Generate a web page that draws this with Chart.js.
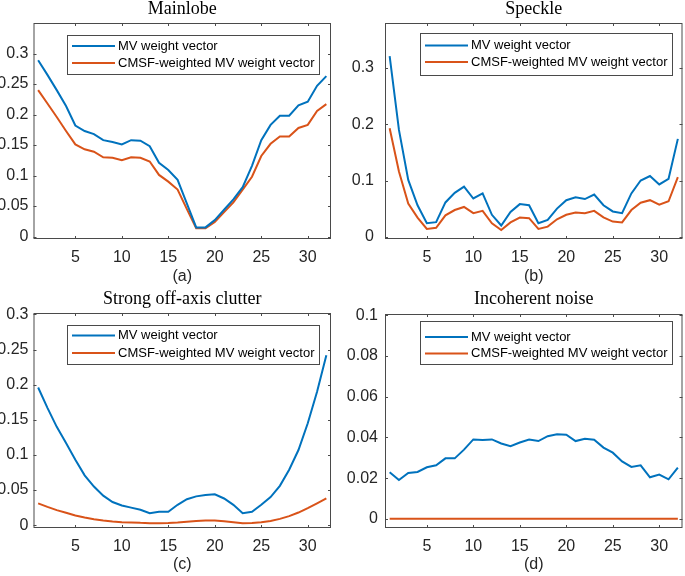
<!DOCTYPE html>
<html>
<head>
<meta charset="utf-8">
<script src="https://cdn.jsdelivr.net/npm/chart.js@4.4.1/dist/chart.umd.min.js"></script>
<style>
  html, body { margin: 0; padding: 0; background: #fff; }
  #wrap { position: relative; width: 685px; height: 576px; overflow: hidden; }
  canvas { position: absolute; }
</style>
</head>
<body>
<div id="wrap">
  <canvas id="pa" width="342" height="288" style="left:0;top:0"></canvas>
  <canvas id="pb" width="343" height="288" style="left:342px;top:0"></canvas>
  <canvas id="pc" width="342" height="288" style="left:0;top:288px"></canvas>
  <canvas id="pd" width="343" height="288" style="left:342px;top:288px"></canvas>
</div>
<script>
// element index 1..32
var elements = [1,2,3,4,5,6,7,8,9,10,11,12,13,14,15,16,17,18,19,20,21,22,23,24,25,26,27,28,29,30,31,32];
var xTicks = [5, 10, 15, 20, 25, 30];

var seriesNames = ['MV weight vector', 'CMSF-weighted MV weight vector'];

// (a) Mainlobe
var mainMV   = [0.289,0.265,0.240,0.214,0.182,0.173,0.168,0.158,0.155,0.151,0.158,0.157,0.148,0.121,0.109,0.093,
                0.054,0.015,0.015,0.027,0.044,0.061,0.081,0.116,0.158,0.183,0.198,0.198,0.215,0.221,0.247,0.263];
var mainCMSF = [0.240,0.218,0.196,0.173,0.151,0.143,0.139,0.130,0.129,0.125,0.130,0.129,0.123,0.101,0.090,0.077,
                0.045,0.0136,0.0136,0.024,0.040,0.056,0.077,0.098,0.132,0.152,0.164,0.164,0.178,0.183,0.206,0.217];
var mainTicks = [0, 0.05, 0.1, 0.15, 0.2, 0.25, 0.3];

// (b) Speckle
var speckMV   = [0.321,0.190,0.101,0.056,0.024,0.026,0.061,0.078,0.089,0.068,0.077,0.039,0.020,0.044,0.058,0.056,
                 0.024,0.030,0.050,0.065,0.070,0.067,0.075,0.056,0.045,0.042,0.077,0.100,0.108,0.093,0.103,0.174];
var speckCMSF = [0.193,0.116,0.059,0.034,0.014,0.016,0.038,0.0475,0.053,0.042,0.046,0.024,0.012,0.0255,0.034,0.033,
                 0.014,0.018,0.031,0.039,0.043,0.042,0.046,0.0345,0.027,0.0255,0.0475,0.0605,0.065,0.057,0.063,0.106];
var speckTicks = [0, 0.1, 0.2, 0.3];

// (c) Strong off-axis clutter
var clutMV   = [0.196,0.167,0.140,0.117,0.093,0.071,0.055,0.042,0.033,0.028,0.025,0.022,0.017,0.019,0.019,0.029,
                0.037,0.041,0.043,0.044,0.038,0.029,0.017,0.019,0.029,0.040,0.056,0.079,0.107,0.145,0.190,0.242];
var clutCMSF = [0.031,0.026,0.0214,0.0176,0.0138,0.011,0.0086,0.0067,0.0052,0.0043,0.004,0.0033,0.0029,0.0029,0.003,0.0038,
                0.005,0.006,0.0067,0.0067,0.0057,0.0043,0.0029,0.003,0.0043,0.006,0.009,0.0129,0.018,0.0243,0.031,0.038];
var clutTicks = [0, 0.05, 0.1, 0.15, 0.2, 0.25, 0.3];

// (d) Incoherent noise
var noiseMV   = [0.0229,0.0191,0.0225,0.0230,0.0253,0.0263,0.0297,0.0297,0.0340,0.0390,0.0387,0.0390,0.0370,0.0357,0.0375,0.0390,
                 0.0382,0.0406,0.0415,0.0413,0.0382,0.0393,0.0389,0.0350,0.0325,0.0282,0.0255,0.0263,0.0204,0.0217,0.0194,0.0251];
var noiseCMSF = [0,0,0,0,0,0,0,0,0,0,0,0,0,0,0,0,0,0,0,0,0,0,0,0,0,0,0,0,0,0,0,0];
var noiseTicks = [0, 0.02, 0.04, 0.06, 0.08, 0.1];

var BLUE = '#0072BD';
var ORANGE = '#D95319';
var AXIS = '#4a4a4a';
var SANS = '"Liberation Sans", Arial, sans-serif';

// MATLAB style box, inward ticks, serif title and boxed legend
var matlabLook = {
  id: 'matlabLook',
  afterDraw: function(chart, args, o) {
    var ctx = chart.ctx, a = chart.chartArea;
    var xs = chart.scales.x, ys = chart.scales.y;
    ctx.save();
    ctx.strokeStyle = AXIS;
    ctx.lineWidth = 1;
    ctx.strokeRect(a.left + 0.5, a.top + 0.5, a.right - a.left - 1, a.bottom - a.top - 1);
    ctx.beginPath();
    xTicks.forEach(function(v) {
      var px = Math.round(xs.getPixelForValue(v)) + 0.5;
      ctx.moveTo(px, a.bottom); ctx.lineTo(px, a.bottom - 3);
      ctx.moveTo(px, a.top); ctx.lineTo(px, a.top + 3);
    });
    o.yTicks.forEach(function(v) {
      var py = Math.round(ys.getPixelForValue(v)) + 0.5;
      ctx.moveTo(a.left, py); ctx.lineTo(a.left + 3, py);
      ctx.moveTo(a.right, py); ctx.lineTo(a.right - 3, py);
    });
    ctx.stroke();

    // title
    ctx.fillStyle = '#000';
    ctx.font = '18px "Liberation Serif", "Times New Roman", serif';
    ctx.textAlign = 'center';
    ctx.textBaseline = 'middle';
    ctx.fillText(o.title, (a.left + a.right) / 2, a.top - o.titleGap);

    // legend
    var bw = o.legW, bh = o.legH;
    var bx = a.right - o.legRight - bw, by = a.top + o.legTop;
    ctx.fillStyle = '#fff';
    ctx.fillRect(bx, by, bw, bh);
    ctx.strokeStyle = AXIS;
    ctx.strokeRect(Math.round(bx) + 0.5, Math.round(by) + 0.5, bw, bh);
    ctx.font = '13px ' + SANS;
    ctx.textAlign = 'left';
    chart.data.datasets.forEach(function(ds, i) {
      var ly = by + o.legRows[i];
      ctx.strokeStyle = ds.borderColor;
      ctx.lineWidth = 2;
      ctx.beginPath();
      ctx.moveTo(bx + 5, ly); ctx.lineTo(bx + 48, ly);
      ctx.stroke();
      ctx.fillStyle = '#000';
      ctx.fillText(ds.label, bx + 51, ly);
    });
    ctx.restore();
  }
};

function makePanel(id, cfg) {
  var ds = [cfg.mv, cfg.cmsf].map(function(vals, i) {
    return {
      label: seriesNames[i],
      data: elements.map(function(e, k) { return { x: e, y: vals[k] }; }),
      borderColor: i === 0 ? BLUE : ORANGE,
      borderWidth: 2,
      pointRadius: 0,
      tension: 0,
      fill: false
    };
  });
  return new Chart(document.getElementById(id), {
    type: 'line',
    data: { datasets: ds },
    options: {
      responsive: false,
      animation: false,
      layout: { padding: { top: cfg.top, right: cfg.right, left: 0, bottom: 0 } },
      plugins: {
        legend: { display: false },
        tooltip: { enabled: false },
        matlabLook: {
          title: cfg.title, titleGap: cfg.titleGap, yTicks: cfg.yTicks,
          legW: 252, legH: cfg.legH, legRight: cfg.legRight, legTop: cfg.legTop, legRows: cfg.legRows
        }
      },
      scales: {
        x: {
          type: 'linear', min: 0.5, max: 32.5,
          afterBuildTicks: function(s) { s.ticks = xTicks.map(function(v) { return { value: v }; }); },
          afterFit: function(s) { s.height = cfg.xh; },
          grid: { display: false, drawTicks: false },
          border: { display: false },
          ticks: { color: '#262626', font: { family: SANS, size: 16 }, padding: 9, maxRotation: 0 },
          title: { display: true, text: cfg.tag, color: '#262626', font: { family: SANS, size: 16 }, padding: { top: 0, bottom: 2 } }
        },
        y: {
          min: cfg.yMin, max: cfg.yMax,
          afterBuildTicks: function(s) { s.ticks = cfg.yTicks.map(function(v) { return { value: v }; }); },
          afterFit: function(s) { s.width = cfg.yw; },
          grid: { display: false, drawTicks: false },
          border: { display: false },
          ticks: {
            color: '#262626', font: { family: SANS, size: 16 }, padding: cfg.ypad,
            callback: function(v) { return String(Number(v.toFixed(4))); }
          }
        }
      }
    },
    plugins: [matlabLook]
  });
}

makePanel('pa', { mv: mainMV, cmsf: mainCMSF, title: 'Mainlobe', tag: '(a)', yTicks: mainTicks,
  yMin: -0.004, yMax: 0.35, top: 23, right: 11, yw: 33.5, ypad: 5, xh: 49, titleGap: 13.5,
  legH: 39, legRight: 12, legTop: 12, legRows: [11, 28] });

makePanel('pb', { mv: speckMV, cmsf: speckCMSF, title: 'Speckle', tag: '(b)', yTicks: speckTicks,
  yMin: -0.004, yMax: 0.38, top: 23, right: 2.5, yw: 43, ypad: 11, xh: 49, titleGap: 13.5,
  legH: 42, legRight: 10.5, legTop: 10, legRows: [12.5, 29] });

makePanel('pc', { mv: clutMV, cmsf: clutCMSF, title: 'Strong off-axis clutter', tag: '(c)', yTicks: clutTicks,
  yMin: -0.004, yMax: 0.302, top: 25, right: 11, yw: 33.5, ypad: 5, xh: 48, titleGap: 14,
  legH: 39, legRight: 12, legTop: 12, legRows: [10.5, 28] });

makePanel('pd', { mv: noiseMV, cmsf: noiseCMSF, title: 'Incoherent noise', tag: '(d)', yTicks: noiseTicks,
  yMin: -0.0045, yMax: 0.1006, top: 26, right: 2.5, yw: 43, ypad: 7, xh: 48, titleGap: 15,
  legH: 43, legRight: 10.5, legTop: 7, legRows: [16, 32.5] });
</script>
</body>
</html>
